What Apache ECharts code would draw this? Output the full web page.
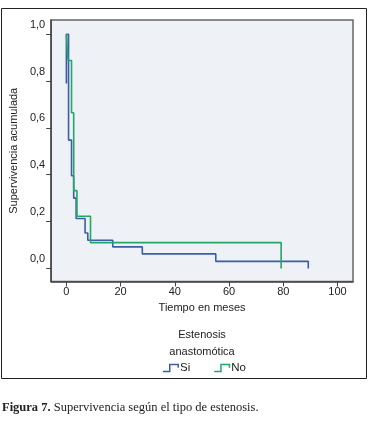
<!DOCTYPE html>
<html>
<head>
<meta charset="utf-8">
<script src="https://cdn.jsdelivr.net/npm/echarts@6/dist/echarts.min.js"></script>
<style>
  html, body { margin: 0; padding: 0; background: #fff; }
  #chart { width: 384px; height: 427px; }
</style>
</head>
<body>
<div id="chart"></div>
<script>
// datos (tiempo en meses, supervivencia acumulada)
var siTiempo = [0, 0, 0.8, 1.9, 2.7, 3.6, 6.9, 7.9, 17.1, 28.0, 55.1, 89.2];
var siSuperv = [0.79, 1.0, 0.548, 0.396, 0.30, 0.213, 0.151, 0.12, 0.092, 0.062, 0.03, 0.0];
var noTiempo = [0, 0.6, 1.9, 2.7, 3.9, 8.9, 79.2];
var noSuperv = [1.0, 0.888, 0.665, 0.332, 0.223, 0.11, 0.0];
var xTicks = [0, 20, 40, 60, 80, 100];
var yTicks = [0, 0.2, 0.4, 0.6, 0.8, 1.0];

function pares (t, s) {
    var out = [];
    for (var i = 0; i < t.length; i++) {
        out.push([t[i], s[i]]);
    }
    return out;
}

var fuente = 'Liberation Sans';
// icono escalonado de la leyenda
var iconoPaso = 'path://M0,7 L6,7 L6,0 L16,0 L16,4 L14.5,4 L14.5,1.5 L7.5,1.5 L7.5,8.5 L0,8.5 Z';

var myChart = echarts.init(document.getElementById('chart'), null, { renderer: 'canvas' });
var option = {
    backgroundColor: '#fff',
    animation: false,
    title: [
        {
            text: 'Estenosis\nanastomótica',
            left: 197,
            top: 321,
            textAlign: 'center',
            textStyle: { fontFamily: fuente, fontSize: 11, fontWeight: 'normal', color: '#222', lineHeight: 17 }
        },
        {
            text: '{b|Figura 7.} Supervivencia según el tipo de estenosis.',
            left: 2,
            top: 401,
            padding: 0,
            textStyle: {
                fontFamily: 'Liberation Serif', fontSize: 12.5, fontWeight: 'normal', color: '#222',
                rich: { b: { fontFamily: 'Liberation Serif', fontSize: 12.5, fontWeight: 'bold', color: '#222' } }
            }
        }
    ],
    legend: {
        left: 158,
        top: 357,
        itemWidth: 16,
        itemHeight: 9,
        itemGap: 24,
        icon: iconoPaso,
        textStyle: { fontFamily: fuente, fontSize: 11.5, color: '#222', padding: [0, 0, 0, -4] },
        data: ['Si', 'No']
    },
    grid: {
        left: 48,
        top: 20,
        right: 31,
        bottom: 145.5,
        show: true,
        backgroundColor: '#eef1f5',
        borderColor: '#666',
        borderWidth: 1.5
    },
    xAxis: {
        type: 'value',
        min: -5.6,
        max: 105.7,
        name: 'Tiempo en meses',
        nameLocation: 'middle',
        nameGap: 19,
        nameTextStyle: { fontFamily: fuente, fontSize: 11, color: '#222' },
        splitLine: { show: false },
        axisLine: { show: true, onZero: false, lineStyle: { color: '#444', width: 1.5 } },
        axisTick: { show: true, length: 5, customValues: xTicks, lineStyle: { color: '#444' } },
        axisLabel: {
            customValues: xTicks, margin: 5,
            fontFamily: fuente, fontSize: 11, color: '#222'
        }
    },
    yAxis: {
        type: 'value',
        min: -0.056,
        max: 1.061,
        name: 'Supervivencia acumulada',
        nameLocation: 'middle',
        nameGap: 28,
        nameTextStyle: { fontFamily: fuente, fontSize: 11, color: '#222' },
        splitLine: { show: false },
        axisLine: { show: true, onZero: false, lineStyle: { color: '#444', width: 1.5 } },
        axisTick: { show: true, length: 5, customValues: yTicks, lineStyle: { color: '#444' } },
        axisLabel: {
            customValues: yTicks, margin: 6,
            verticalAlign: 'bottom', lineHeight: 11, padding: [0, 0, 4, 0],
            fontFamily: fuente, fontSize: 11, color: '#222',
            formatter: function (v) { return v.toFixed(1).replace('.', ','); }
        }
    },
    series: [
        {
            name: 'Si',
            type: 'line',
            step: 'end',
            symbol: 'none',
            color: '#3d5da8',
            lineStyle: { color: '#3d5da8', width: 1.6 },
            data: pares(siTiempo, siSuperv)
        },
        {
            name: 'No',
            type: 'line',
            step: 'end',
            symbol: 'none',
            color: '#25a567',
            lineStyle: { color: '#25a567', width: 1.6 },
            data: pares(noTiempo, noSuperv)
        }
    ],
    graphic: [
        {
            type: 'rect',
            shape: { x: 1.5, y: 8.5, width: 365, height: 370 },
            style: { fill: 'none', stroke: '#222', lineWidth: 1 },
            silent: true
        }
    ]
};
myChart.setOption(option);
</script>
</body>
</html>
